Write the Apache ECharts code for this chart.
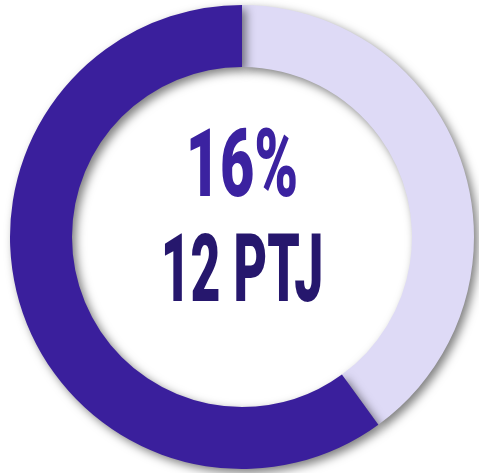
<!DOCTYPE html>
<html>
<head>
<meta charset="utf-8">
<script src="https://cdn.jsdelivr.net/npm/echarts@6/dist/echarts.min.js"></script>
<style>
    html, body { margin: 0; padding: 0; background: #fff; }
    #chart { width: 479px; height: 473px; }
</style>
</head>
<body>
<div id="chart"></div>
<script>
// slices, clockwise from 12 o'clock
var sliceNames = ['rest', 'done'];
var sliceValues = [40, 60];
var sliceColors = ['#dedaf6', '#3a1f9c'];
var percentText = '16%';
var countText = '12 PTJ';

var chart = echarts.init(document.getElementById('chart'));

var pieData = sliceNames.map(function (name, i) {
    return {
        name: name,
        value: sliceValues[i],
        itemStyle: { color: sliceColors[i] }
    };
});

var option = {
    backgroundColor: '#ffffff',
    animation: false,
    series: [
        {
            type: 'pie',
            center: [242, 237],
            radius: [170, 232],
            startAngle: 90,
            clockwise: true,
            silent: true,
            label: { show: false },
            labelLine: { show: false },
            itemStyle: {
                shadowBlur: 10,
                shadowOffsetX: 4,
                shadowOffsetY: 4,
                shadowColor: 'rgba(0, 0, 0, 0.5)'
            },
            data: pieData
        }
    ],
    graphic: [
        {
            type: 'text',
            x: 242,
            y: 172,
            scaleX: 0.63,
            style: {
                text: percentText,
                fill: '#3b22a0',
                font: '900 94px Roboto',
                textAlign: 'center',
                textVerticalAlign: 'middle'
            }
        },
        {
            type: 'text',
            x: 242,
            y: 277,
            scaleX: 0.55,
            style: {
                text: countText,
                fill: '#26176d',
                font: '900 94px Roboto',
                textAlign: 'center',
                textVerticalAlign: 'middle'
            }
        }
    ]
};

chart.setOption(option);
</script>
</body>
</html>
